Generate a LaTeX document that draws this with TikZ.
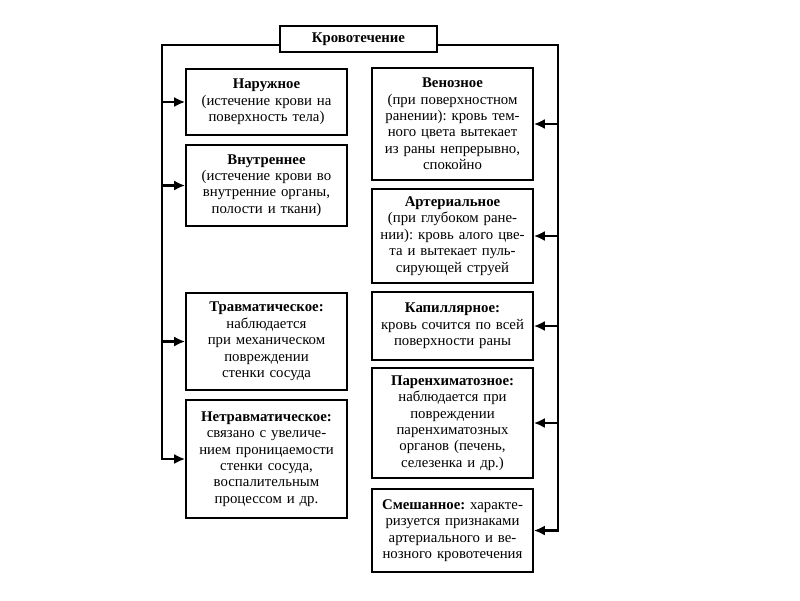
\documentclass[tikz,border=0pt]{standalone}
\usepackage{fontspec}
\setmainfont{Liberation Serif}
\usetikzlibrary{arrows.meta}
\begin{document}
\frenchspacing
\begin{tikzpicture}[x=1pt,y=-1pt,
  box/.style={draw, line width=1.6pt, minimum width=161pt, text width=157pt, inner sep=0pt, align=center, font=\fontsize{14.8}{16.4}\selectfont\frenchspacing},
  bus/.style={line width=2.4pt},
  arr/.style={line width=2.2pt, -{Latex[length=11pt,width=10pt]}}]
\useasboundingbox[fill=white] (0,0) rectangle (800,600);
\node[box, minimum width=157pt, minimum height=26pt] (title) at (358.5,39) {\textbf{Кровотечение}};
\node[box, minimum height=66pt] (nar) at (266.5,102) {\textbf{Наружное}\\(истечение крови на\\поверхность тела)};
\node[box, minimum height=81pt] (vnut) at (266.5,185.5) {\textbf{Внутреннее}\\(истечение крови во\\внутренние органы,\\полости и ткани)};
\node[box, minimum height=97pt] (trav) at (266.5,341.5) {\textbf{Травматическое:}\\наблюдается\\при механическом\\повреждении\\стенки сосуда};
\node[box, minimum height=118pt] (netrav) at (266.5,459) {\textbf{Нетравматическое:}\\связано с увеличе-\\нием проницаемости\\стенки сосуда,\\воспалительным\\процессом и др.};
\node[box, minimum height=112pt] (ven) at (452.5,124) {\textbf{Венозное}\\(при поверхностном\\ранении): кровь тем-\\ного цвета вытекает\\из раны непрерывно,\\спокойно};
\node[box, minimum height=94pt] (art) at (452.5,236) {\textbf{Артериальное}\\(при глубоком ране-\\нии): кровь алого цве-\\та и вытекает пуль-\\сирующей струей};
\node[box, minimum height=68pt] (kap) at (452.5,326) {\textbf{Капиллярное:}\\кровь сочится по всей\\поверхности раны};
\node[box, minimum height=110pt] (par) at (452.5,423) {\textbf{Паренхиматозное:}\\наблюдается при\\повреждении\\паренхиматозных\\органов (печень,\\селезенка и др.)};
\node[box, minimum height=83pt] (smesh) at (452.5,530.5) {\textbf{Смешанное:} характе-\\ризуется признаками\\артериального и ве-\\нозного кровотечения};
\coordinate (L) at (162,45);
\coordinate (R) at (558,45);
\draw[bus, line cap=rect] (L -| title.west) -- (L) -- (L |- netrav.west);
\draw[bus, line cap=rect] (R -| title.east) -- (R) -- (R |- smesh.east);
\foreach \n in {nar,vnut,trav,netrav} \draw[arr] (L |- \n.west) -- (\n.west);
\foreach \n in {ven,art,kap,par,smesh} \draw[arr] (R |- \n.east) -- (\n.east);
\end{tikzpicture}
\end{document}
